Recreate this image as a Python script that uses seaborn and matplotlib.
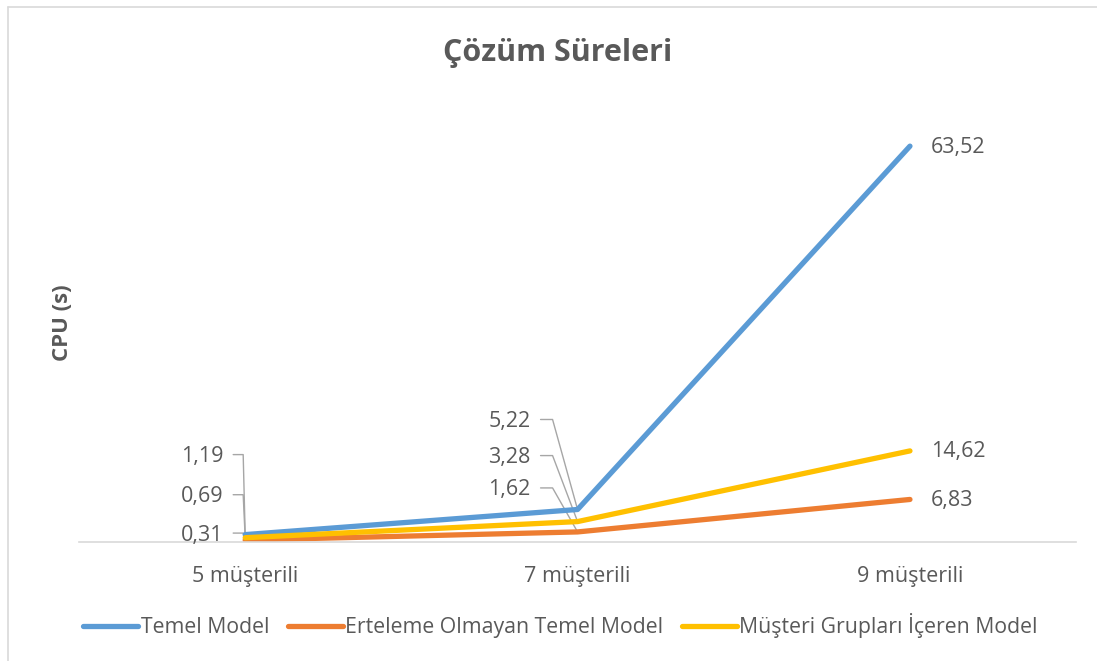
import matplotlib
matplotlib.use("Agg")
import matplotlib.pyplot as plt
import seaborn as sns
import pandas as pd
from matplotlib.lines import Line2D
from matplotlib.transforms import IdentityTransform

categories = ["5 müşterili", "7 müşterili", "9 müşterili"]
series_names = ["Temel Model", "Erteleme Olmayan Temel Model", "Müşteri Grupları İçeren Model"]
temel = [1.19, 5.22, 63.52]
erteleme = [0.31, 1.62, 6.83]
musteri = [0.69, 3.28, 14.62]
colors = ["#5B9BD5", "#ED7D31", "#FFC000"]

sns.set_theme(style="white")
plt.rcParams["font.family"] = ["Open Sans", "DejaVu Sans"]
TXT = "#595959"
FS = 15.5

rows = []
for name, vals in zip(series_names, [temel, erteleme, musteri]):
    for i, v in enumerate(vals):
        rows.append({"Kategori": i, "Seri": name, "Değer": v})
df = pd.DataFrame(rows)

fig = plt.figure(figsize=(10.97, 6.61), dpi=100)
ax = fig.add_axes([0.072, 0.180, 0.909, 0.660])

sns.lineplot(data=df, x="Kategori", y="Değer", hue="Seri", hue_order=series_names,
             palette=colors, linewidth=3.8, ax=ax, legend=False, sort=False)
for ln in ax.lines:
    ln.set_solid_capstyle("round")
    ln.set_solid_joinstyle("round")

ax.set_xlim(-0.5, 2.5)
ax.set_ylim(0, 70)
ax.set_xticks(range(len(categories)))
ax.set_xticklabels(categories, fontsize=FS, color=TXT)
ax.tick_params(axis="x", length=0, pad=17)
ax.set_yticks([])
ax.set_xlabel("")
ax.set_ylabel("CPU (s)", fontsize=16, fontweight="bold", color=TXT, labelpad=0)
ax.yaxis.set_label_coords(-0.0065, 0.502)
for s in ["top", "right", "left"]:
    ax.spines[s].set_visible(False)
ax.spines["bottom"].set_color("#D9D9D9")
ax.spines["bottom"].set_linewidth(1.2)

fig.suptitle("Çözüm Süreleri", fontsize=22, fontweight="bold", color=TXT,
             x=0.508, y=0.943)

all_vals = [temel, erteleme, musteri]
for vals in all_vals:
    ax.annotate(f"{vals[2]:.2f}".replace(".", ","), xy=(2, vals[2]), xytext=(21, -1),
                textcoords="offset pixels", ha="left", va="center", fontsize=FS, color=TXT)

leader_specs = [
    (temel, 0, 78, -22),
    (musteri, 0, 41, -22),
    (erteleme, 0, 5, -22),
    (temel, 1, 88, -47),
    (musteri, 1, 64, -47),
    (erteleme, 1, 42, -47),
]
fig.canvas.draw()
for vals, ci, dy, dx in leader_specs:
    x0, y0 = ax.transData.transform((ci, vals[ci]))
    ty = y0 + dy
    ax.text(x0 + dx, ty, f"{vals[ci]:.2f}".replace(".", ","), transform=IdentityTransform(),
            ha="right", va="center", fontsize=FS, color=TXT)
    xs = [x0 + dx + 10, x0 + dx + (22 if ci == 1 else 20), x0]
    ys = [ty + 2, ty + 2, y0]
    ax.add_line(Line2D(xs, ys, transform=IdentityTransform(), color="#A6A6A6",
                       linewidth=1.0, clip_on=False, zorder=1))

handles = [Line2D([0], [0], color=c, linewidth=3.8, solid_capstyle="round") for c in colors]
leg = fig.legend(handles, series_names, loc="center", bbox_to_anchor=(0.511, 0.053), ncol=3,
                 frameon=False, fontsize=15.3, handlelength=2.6, handletextpad=0.12,
                 columnspacing=0.85, labelcolor=TXT)

fig.add_artist(Line2D([8 / 1097, 8 / 1097], [0, 1 - 7 / 661], transform=fig.transFigure,
                      color="#D9D9D9", linewidth=1.2))
fig.add_artist(Line2D([8 / 1097, 1], [1 - 7 / 661, 1 - 7 / 661], transform=fig.transFigure,
                      color="#D9D9D9", linewidth=1.2))

fig.savefig("out.png", dpi=100)
